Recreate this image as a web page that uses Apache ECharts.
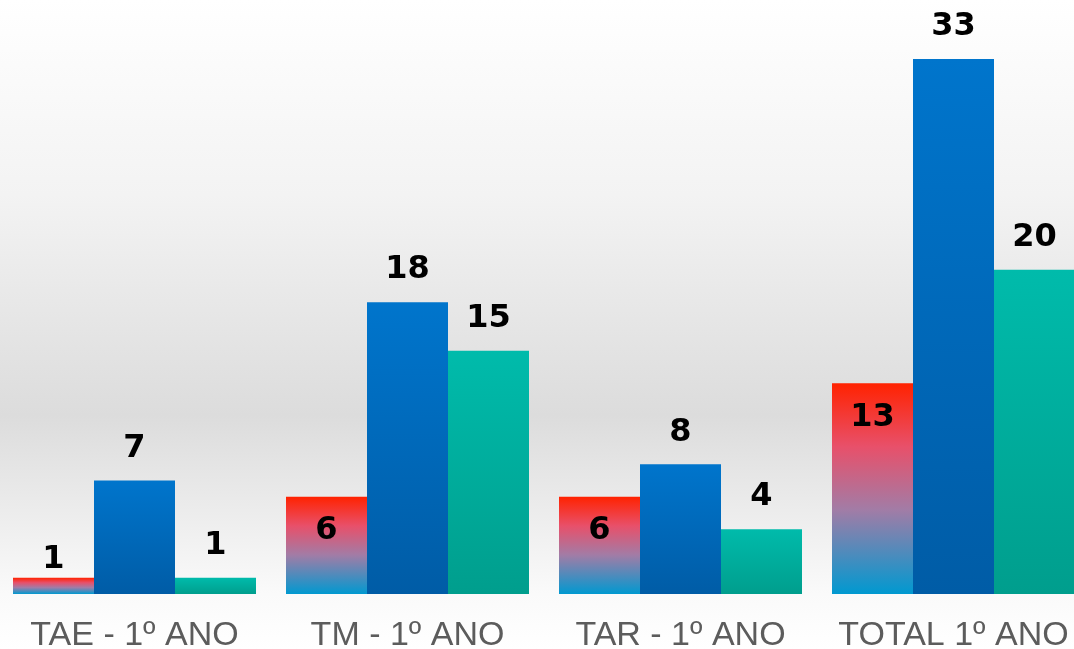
<!DOCTYPE html>
<html>
<head>
<meta charset="utf-8">
<script src="https://cdn.jsdelivr.net/npm/echarts@6/dist/echarts.min.js"></script>
<style>
  html, body { margin: 0; padding: 0; background: #fff; }
  #chart { width: 1074px; height: 649px; }
</style>
</head>
<body>
<div id="chart"></div>
<script>
  // dados
  var categorias = ['TAE - 1º ANO', 'TM - 1º ANO', 'TAR - 1º ANO', 'TOTAL 1º ANO'];
  var serieVermelha = [1, 6, 6, 13];
  var serieAzul = [7, 18, 8, 33];
  var serieVerde = [1, 15, 4, 20];

  var chart = echarts.init(document.getElementById('chart'));

  function grad(stops) {
    return new echarts.graphic.LinearGradient(0, 0, 0, 1, stops);
  }

  var labelBase = {
    show: true,
    color: '#000',
    fontFamily: 'DejaVu Sans, Arial, sans-serif',
    fontWeight: 'bold',
    fontSize: 32
  };

  // o primeiro valor (1) fica acima da barra, os outros dentro
  var dadosVermelhos = serieVermelha.map(function (v) {
    if (v < 3) {
      return { value: v, label: { position: 'top', distance: 2 } };
    }
    return { value: v, label: { position: 'insideTop', distance: 18 } };
  });

  var option = {
    backgroundColor: grad([
      { offset: 0, color: '#ffffff' },
      { offset: 0.3, color: '#f3f3f3' },
      { offset: 0.64, color: '#dcdcdc' },
      { offset: 0.915, color: '#fafafa' },
      { offset: 1, color: '#ffffff' }
    ]),
    animation: false,
    grid: { left: -2, right: -16, top: 59, bottom: 55, containLabel: false, outerBoundsMode: 'none' },
    xAxis: {
      type: 'category',
      data: categorias,
      axisLine: { show: false },
      axisTick: { show: false },
      axisLabel: {
        color: '#5c5c5c',
        fontFamily: 'Liberation Sans, Arial, sans-serif',
        fontSize: 34,
        margin: 25,
        interval: 0
      }
    },
    yAxis: {
      type: 'value',
      min: 0,
      max: 33,
      show: false,
      splitLine: { show: false }
    },
    series: [
      {
        name: 'vermelho',
        type: 'bar',
        barWidth: 81,
        barGap: '0%',
        data: dadosVermelhos,
        itemStyle: {
          color: grad([
            { offset: 0, color: '#ff2200' },
            { offset: 0.3, color: '#e8506a' },
            { offset: 0.6, color: '#a27ca6' },
            { offset: 1, color: '#0099d0' }
          ])
        },
        label: labelBase
      },
      {
        name: 'azul',
        type: 'bar',
        barWidth: 81,
        barGap: '0%',
        data: serieAzul,
        itemStyle: {
          color: grad([
            { offset: 0, color: '#0075cc' },
            { offset: 1, color: '#005ca6' }
          ])
        },
        label: Object.assign({}, labelBase, { position: 'top', distance: 16 })
      },
      {
        name: 'verde',
        type: 'bar',
        barWidth: 81,
        barGap: '0%',
        data: serieVerde,
        itemStyle: {
          color: grad([
            { offset: 0, color: '#00bbab' },
            { offset: 1, color: '#009e8d' }
          ])
        },
        label: Object.assign({}, labelBase, { position: 'top', distance: 16 })
      }
    ]
  };

  chart.setOption(option);
</script>
</body>
</html>
